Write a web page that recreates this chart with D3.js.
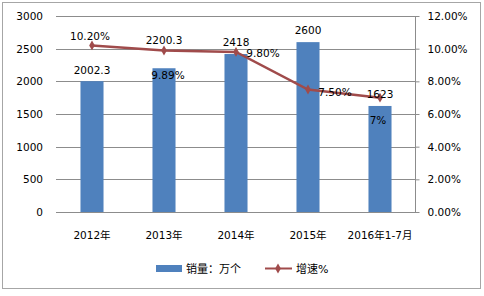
<!DOCTYPE html>
<html><head><meta charset="utf-8">
<script src="https://cdn.jsdelivr.net/npm/d3@7"></script>
<style>body{margin:0;background:#fff}svg{display:block}</style>
</head><body>
<script>
const categories = ["2012年","2013年","2014年","2015年","2016年1-7月"];
const sales = [2002.3, 2200.3, 2418, 2600, 1623];
const growth = [10.2, 9.89, 9.8, 7.5, 7.0];
const salesLabels = ["2002.3","2200.3","2418","2600","1623"];
const growthLabels = ["10.20%","9.89%","9.80%","7.50%","7%"];
const leftTicks = [0,500,1000,1500,2000,2500,3000];
const rightTicks = [0,2,4,6,8,10,12];
const legendNames = ["销量：万个","增速%"];

// label layout offsets (pixels)
const salesLabelDy = [-7,-24,-8,-8,-8];
const growthLabelDx = [-2,4,27,27,-2];
const growthLabelDy = [-5,29,5,6,26];

(function(){
const W=484,H=296;
const font = "'DejaVu Sans','Noto Sans CJK SC',sans-serif";
const svg = d3.select("body").append("svg").attr("width",W).attr("height",H);
svg.append("rect").attr("width",W).attr("height",H).attr("fill","#fff");
svg.append("rect").attr("x",2.5).attr("y",2.5).attr("width",478).attr("height",286)
  .attr("fill","none").attr("stroke","#a6a6a6");

const pL=56,pR=416,pT=16,pB=212;
const x = d3.scaleBand().domain(categories).range([pL,pR]).paddingInner(0.68).paddingOuter(0.34);
const yL = d3.scaleLinear().domain([0,3000]).range([pB,pT]);
const yR = d3.scaleLinear().domain([0,12]).range([pB,pT]);
const cx = c => x(c)+x.bandwidth()/2;

// gridlines
svg.append("g").selectAll("line").data(leftTicks).join("line")
  .attr("x1",pL).attr("x2",pR).attr("y1",d=>Math.round(yL(d))+0.5).attr("y2",d=>Math.round(yL(d))+0.5)
  .attr("stroke","#8c8c8c").attr("stroke-width",1);

// left axis labels
svg.append("g").selectAll("text").data(leftTicks).join("text")
  .attr("x",43).attr("y",d=>yL(d)+4).attr("text-anchor","end")
  .attr("font-family",font).attr("font-size","10.5px").attr("fill","#000").text(d=>d);

// right axis
const rAxis = d3.axisRight(yR).tickValues(rightTicks).tickSize(4).tickPadding(8)
  .tickFormat(d=>d.toFixed(2)+"%");
const rg = svg.append("g").attr("transform",`translate(${pR-0.5},0)`).call(rAxis);
rg.select(".domain").attr("stroke","#8c8c8c").attr("d",`M0,${pT}V${pB}`);
rg.selectAll(".tick line").attr("stroke","#8c8c8c");
rg.selectAll(".tick text").attr("font-family",font).attr("font-size","10.5px").attr("fill","#000");

// bars
svg.append("g").selectAll("rect").data(sales).join("rect")
  .attr("x",(d,i)=>x(categories[i])).attr("width",x.bandwidth())
  .attr("y",d=>yL(d)).attr("height",d=>pB-yL(d)).attr("fill","#4f81bd");

// x labels
svg.append("g").selectAll("text").data(categories).join("text")
  .attr("x",d=>cx(d)).attr("y",239).attr("text-anchor","middle")
  .attr("font-family",font).attr("font-size","10.5px").attr("fill","#000").text(d=>d);

// line
const line = d3.line().x((d,i)=>cx(categories[i])).y(d=>yR(d));
svg.append("path").datum(growth).attr("d",line).attr("fill","none")
  .attr("stroke","#a04b4b").attr("stroke-width",2.5);
const diamond = d3.symbol().type(d3.symbolDiamond).size(28);
svg.append("g").selectAll("path").data(growth).join("path")
  .attr("transform",(d,i)=>`translate(${cx(categories[i])},${yR(d)})`)
  .attr("d",diamond).attr("fill","#a04b4b");

// sales labels
svg.append("g").selectAll("text").data(sales).join("text")
  .attr("x",(d,i)=>cx(categories[i])).attr("y",(d,i)=>yL(d)+salesLabelDy[i])
  .attr("text-anchor","middle").attr("font-family",font).attr("font-size","10.5px")
  .attr("fill","#000").text((d,i)=>salesLabels[i]);

// growth labels
svg.append("g").selectAll("text").data(growth).join("text")
  .attr("x",(d,i)=>cx(categories[i])+growthLabelDx[i]).attr("y",(d,i)=>yR(d)+growthLabelDy[i])
  .attr("text-anchor","middle").attr("font-family",font).attr("font-size","10.5px")
  .attr("fill","#000").text((d,i)=>growthLabels[i]);

// legend
const lg = svg.append("g");
lg.append("rect").attr("x",156).attr("y",265).attr("width",26).attr("height",7).attr("fill","#4f81bd");
lg.append("text").attr("x",186).attr("y",273).attr("font-family",font).attr("font-size","11px").text(legendNames[0]);
lg.append("line").attr("x1",265).attr("x2",292).attr("y1",268.5).attr("y2",268.5).attr("stroke","#a04b4b").attr("stroke-width",2);
lg.append("path").attr("transform","translate(278,268.5)").attr("d",diamond).attr("fill","#a04b4b");
lg.append("text").attr("x",296).attr("y",273).attr("font-family",font).attr("font-size","11px").text(legendNames[1]);
})();
</script>
</body></html>
